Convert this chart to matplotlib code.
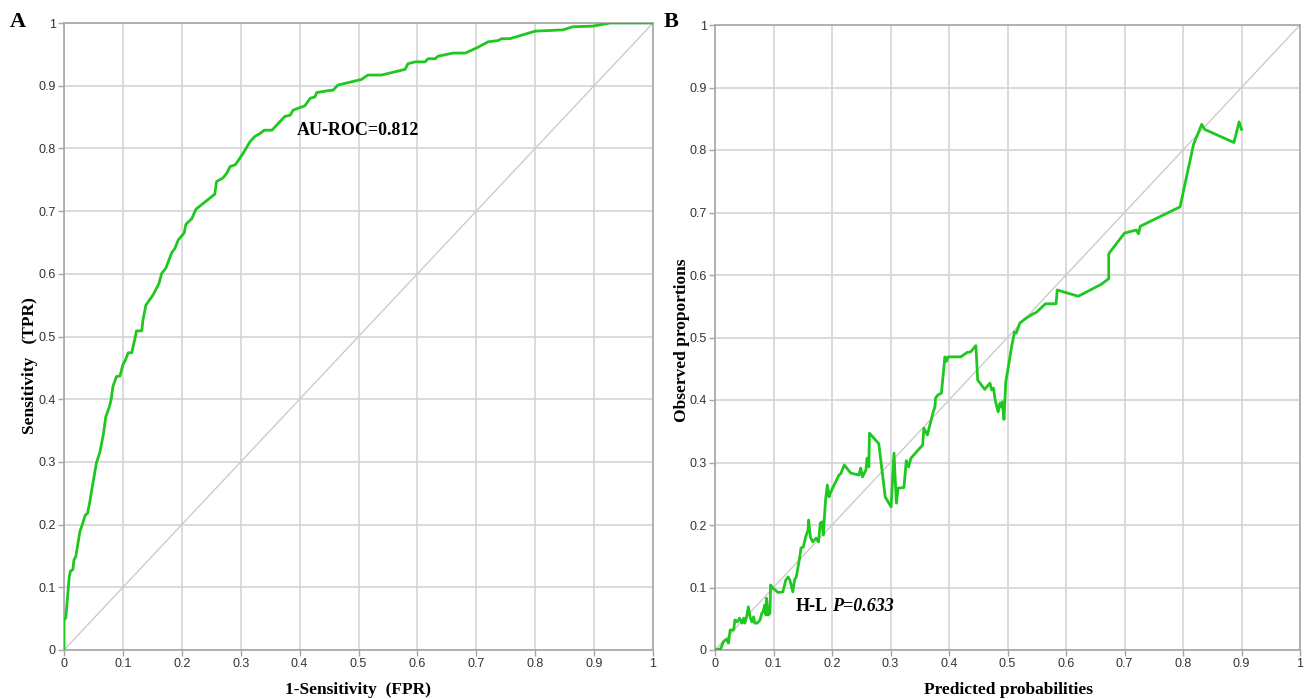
import matplotlib
matplotlib.use("Agg")
import matplotlib.pyplot as plt
import numpy as np

# ---- Panel A: ROC curve (FPR, TPR) ----
roc_fpr = [0, 0.0, 0.003, 0.009, 0.011, 0.015, 0.017, 0.020, 0.027, 0.030, 0.036, 0.040,
           0.044, 0.047, 0.050, 0.055, 0.061, 0.067, 0.071, 0.077, 0.080, 0.083, 0.089,
           0.095, 0.100, 0.104, 0.109, 0.115, 0.121, 0.123, 0.132, 0.134, 0.139, 0.151,
           0.161, 0.166, 0.173, 0.183, 0.188, 0.194, 0.204, 0.207, 0.217, 0.224, 0.256,
           0.259, 0.270, 0.276, 0.282, 0.291, 0.304, 0.316, 0.324, 0.333, 0.340, 0.353,
           0.375, 0.384, 0.389, 0.409, 0.418, 0.426, 0.429, 0.448, 0.457, 0.465, 0.505,
           0.516, 0.539, 0.579, 0.584, 0.596, 0.613, 0.618, 0.630, 0.635, 0.660, 0.681,
           0.700, 0.720, 0.737, 0.743, 0.757, 0.800, 0.847, 0.864, 0.898, 0.927, 1.0]
roc_tpr = [0, 0.048, 0.051, 0.117, 0.126, 0.128, 0.144, 0.149, 0.189, 0.197, 0.215, 0.218,
           0.237, 0.255, 0.271, 0.298, 0.316, 0.345, 0.372, 0.388, 0.399, 0.420, 0.436,
           0.437, 0.455, 0.462, 0.474, 0.474, 0.499, 0.509, 0.509, 0.526, 0.550, 0.566,
           0.584, 0.601, 0.609, 0.634, 0.640, 0.654, 0.665, 0.679, 0.688, 0.703, 0.727,
           0.747, 0.753, 0.760, 0.771, 0.774, 0.792, 0.811, 0.819, 0.824, 0.829, 0.829,
           0.851, 0.853, 0.861, 0.868, 0.880, 0.882, 0.889, 0.892, 0.893, 0.901, 0.910,
           0.917, 0.917, 0.926, 0.935, 0.938, 0.938, 0.943, 0.943, 0.947, 0.952, 0.952,
           0.960, 0.970, 0.972, 0.975, 0.975, 0.987, 0.989, 0.994, 0.995, 1.0, 1.0]

# ---- Panel B: calibration curve (predicted, observed) ----
cal_pred = [0, 0.010, 0.014, 0.018, 0.020, 0.023, 0.026, 0.032, 0.034, 0.038, 0.042, 0.046,
            0.049, 0.051, 0.054, 0.057, 0.060, 0.063, 0.066, 0.068, 0.072, 0.077, 0.080,
            0.082, 0.085, 0.087, 0.088, 0.091, 0.094, 0.095, 0.099, 0.108, 0.116, 0.121,
            0.125, 0.128, 0.131, 0.133, 0.136, 0.139, 0.142, 0.145, 0.147, 0.151, 0.155,
            0.159, 0.160, 0.163, 0.167, 0.173, 0.177, 0.180, 0.183, 0.185, 0.189, 0.192,
            0.195, 0.198, 0.212, 0.215, 0.221, 0.232, 0.246, 0.249, 0.252, 0.258, 0.260,
            0.263, 0.264, 0.280, 0.291, 0.301, 0.306, 0.310, 0.313, 0.323, 0.327, 0.331,
            0.335, 0.355, 0.357, 0.363, 0.373, 0.376, 0.377, 0.381, 0.387, 0.393, 0.396,
            0.398, 0.420, 0.431, 0.437, 0.446, 0.449, 0.461, 0.470, 0.473, 0.476, 0.479,
            0.481, 0.484, 0.487, 0.490, 0.491, 0.494, 0.497, 0.500, 0.507, 0.512, 0.515,
            0.521, 0.532, 0.544, 0.549, 0.565, 0.583, 0.585, 0.621, 0.660, 0.673, 0.673,
            0.700, 0.720, 0.724, 0.727, 0.795, 0.818, 0.832, 0.837, 0.887, 0.896, 0.900]
cal_obs = [0, 0.002, 0.013, 0.016, 0.017, 0.011, 0.032, 0.032, 0.048, 0.045, 0.051, 0.043,
           0.051, 0.043, 0.053, 0.069, 0.053, 0.045, 0.053, 0.043, 0.043, 0.048, 0.059,
           0.061, 0.072, 0.056, 0.083, 0.056, 0.059, 0.104, 0.099, 0.092, 0.093, 0.112,
           0.117, 0.112, 0.101, 0.093, 0.112, 0.117, 0.133, 0.149, 0.163, 0.165, 0.181,
           0.192, 0.208, 0.181, 0.173, 0.179, 0.173, 0.203, 0.205, 0.184, 0.240, 0.264,
           0.245, 0.253, 0.280, 0.282, 0.296, 0.283, 0.280, 0.291, 0.277, 0.288, 0.307,
           0.293, 0.347, 0.330, 0.245, 0.229, 0.315, 0.235, 0.259, 0.260, 0.303, 0.293,
           0.307, 0.328, 0.355, 0.344, 0.381, 0.389, 0.403, 0.408, 0.411, 0.469, 0.462,
           0.469, 0.469, 0.476, 0.477, 0.487, 0.432, 0.417, 0.427, 0.416, 0.419, 0.400,
           0.392, 0.381, 0.395, 0.389, 0.397, 0.369, 0.429, 0.445, 0.485, 0.509, 0.507,
           0.523, 0.531, 0.538, 0.540, 0.554, 0.554, 0.576, 0.566, 0.585, 0.594, 0.634,
           0.667, 0.672, 0.666, 0.678, 0.709, 0.809, 0.841, 0.833, 0.812, 0.845, 0.833]

ticks = [0, 0.1, 0.2, 0.3, 0.4, 0.5, 0.6, 0.7, 0.8, 0.9, 1]
tick_labels = ["0", "0.1", "0.2", "0.3", "0.4", "0.5", "0.6", "0.7", "0.8", "0.9", "1"]

GREEN = "#1ec81e"
GRID = "#d4d4d4"
SPINE = "#a6a6a6"
SERIF = ["Liberation Serif", "DejaVu Serif"]
SANS = ["Liberation Sans", "DejaVu Sans"]

W, H = 1314, 699
fig = plt.figure(figsize=(W / 100, H / 100), dpi=100)
axA = fig.add_axes([64 / W, 49 / H, 589 / W, 627 / H])
axB = fig.add_axes([715 / W, 49 / H, 585 / W, 625 / H])


def style(ax):
    ax.set_xlim(0, 1)
    ax.set_ylim(0, 1)
    ax.set_xticks(ticks)
    ax.set_yticks(ticks)
    ax.set_xticklabels(tick_labels, family=SANS, fontsize=9, color="#333333")
    ax.set_yticklabels(tick_labels, family=SANS, fontsize=9, color="#333333")
    ax.grid(True, color=GRID, linewidth=1.2)
    ax.set_axisbelow(True)
    for s in ax.spines.values():
        s.set_color(SPINE)
        s.set_linewidth(1.2)
    ax.tick_params(length=4, width=1, color=SPINE, pad=2)
    ax.plot([0, 1], [0, 1], color="#cccccc", linewidth=1.0, zorder=2)


label_kw = dict(family=SERIF, fontweight="bold", fontsize=12.5, ha="center", va="center")

style(axA)
axA.plot(roc_fpr, roc_tpr, color=GREEN, linewidth=2.0, zorder=3)
fig.text(358 / W, 1 - 690 / H, "1-Sensitivity  (FPR)", **label_kw)
fig.text(30 / W, 1 - 366 / H, "Sensitivity   (TPR)", rotation=90, **label_kw)
axA.text(0.396, 0.829, "AU-ROC=0.812", family=SERIF, fontweight="bold", fontsize=13,
         va="center", ha="left", zorder=4)

style(axB)
axB.plot(cal_pred, cal_obs, color=GREEN, linewidth=2.0, zorder=3)
fig.text(1008 / W, 1 - 690 / H, "Predicted probabilities", **label_kw)
fig.text(682 / W, 1 - 340 / H, "Observed proportions", rotation=90, **label_kw)
t1 = axB.text(0.137, 0.07, "H-L", family=SERIF, fontweight="bold", fontsize=13,
              va="center", ha="left")
axB.annotate("P=0.633", xy=(1, 0.5), xycoords=t1, xytext=(3.5, 0), textcoords="offset points",
             family=SERIF, fontweight="bold", style="italic", fontsize=13,
             va="center", ha="left")

fig.text(10 / W, 1 - 22 / H, "A", family=SERIF, fontweight="bold", fontsize=16, va="center")
fig.text(664 / W, 1 - 22 / H, "B", family=SERIF, fontweight="bold", fontsize=16, va="center")

fig.savefig("out.png", dpi=100, facecolor="white")
